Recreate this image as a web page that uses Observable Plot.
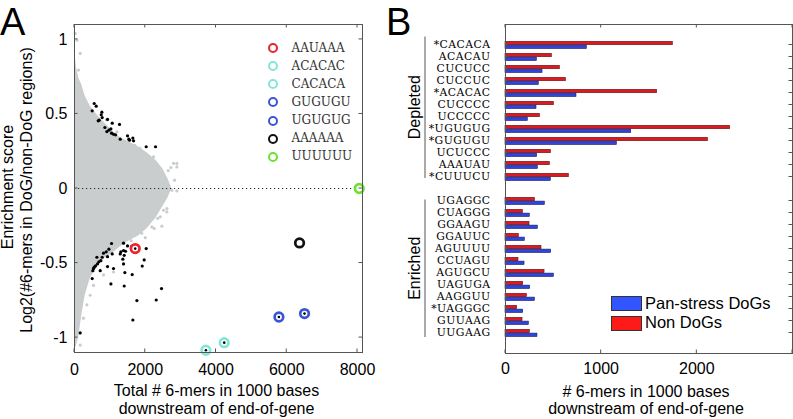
<!DOCTYPE html>
<html><head><meta charset="utf-8">
<script src="https://cdn.jsdelivr.net/npm/d3@7"></script>
<script src="https://cdn.jsdelivr.net/npm/@observablehq/plot@0.6"></script>
<style>
body{margin:0;background:#fff;}
#wrap{position:relative;width:793px;height:419px;overflow:hidden;font-family:"Liberation Sans",Arial,sans-serif;color:#000;}
.panel{position:absolute;top:0;}
.letter{position:absolute;font-size:38px;line-height:1;}
.legA{position:absolute;font-family:"DejaVu Serif",serif;font-size:12px;color:#333;white-space:nowrap;}
.ring{position:absolute;box-sizing:border-box;width:10px;height:10px;border-radius:50%;border:2.4px solid;}
.patch{position:absolute;width:31px;height:15px;box-sizing:border-box;border:1px solid #333;}
.legB{position:absolute;font-size:16.5px;line-height:1;white-space:nowrap;}
</style></head><body><div id="wrap"></div>
<script>
// ---------- Panel A data ----------
const cloudX    = [0, 50, 120, 200, 300, 450, 650, 850, 1100, 1300, 1550, 1800, 2050, 2300, 2500, 2650, 2750];
const cloudHigh = [0.95, 0.82, 0.74, 0.70, 0.62, 0.55, 0.49, 0.44, 0.38, 0.34, 0.31, 0.28, 0.24, 0.19, 0.13, 0.06, 0.0];
const cloudLow  = [-1.08, -1.06, -1.0, -0.86, -0.72, -0.60, -0.52, -0.47, -0.43, -0.39, -0.35, -0.32, -0.27, -0.20, -0.12, -0.06, 0.0];

const grayX = [20, 68, 161, 113, 2799, 2725, 2894, 2470, 2828, 2310, 2630, 2752, 2894, 2517, 2423, 2234, 2375, 2517, 2611, 2281, 2140, 2423, 2187, 2253, 2470, 2046, 1952, 2894, 2423, 2234, 2046, 350, 254, 113, 161, 444, 538, 820, 1103, 2140, 2612, 1952, 1575, 900, 1200, 1450, 1700, 1850, 2650, 1600, 1900, 2000, 2350];
const grayY = [1.04, 0.995, 0.906, 0.794, 0.168, 0.141, 0.145, 0.10, 0.056, 0.044, 0, -0.011, -0.016, -0.007, -0.023, -0.079, -0.09, -0.146, -0.157, -0.128, -0.19, -0.19, -0.258, -0.268, -0.253, -0.213, -0.235, 0.168, 0.1, 0.212, 0.19, -0.78, -0.87, -0.83, -1.05, -0.716, -0.65, -0.58, -0.56, -0.2, -0.134, -0.268, -0.313, 0.46, 0.38, 0.31, 0.29, 0.27, 0.12, -0.35, -0.30, -0.33, -0.2];

const blackX = [557, 613, 500, 774, 755, 698, 670, 783, 934, 1066, 1273, 859, 972, 1029, 915, 1047, 1103, 1160, 1292, 1499, 1537, 1650, 1669, 1556, 2027, 2291,
  1047, 1386, 1499, 1612, 1311, 1386, 1443, 1292, 1405, 1367, 1386, 972, 896, 934, 820, 783, 745, 689, 632, 651, 594, 538, 557, 519, 1066, 727, 934, 1103, 500, 2027, 1970, 1914, 1424, 1631, 1029, 1405, 2460, 2310, 1764, 1650, 161];
const blackY = [0.570, 0.552, 0.521, 0.512, 0.494, 0.458, 0.454, 0.476, 0.463, 0.438, 0.43, 0.409, 0.391, 0.40, 0.382, 0.371, 0.364, 0.36, 0.331, 0.353, 0.331, 0.338, 0.32, 0.324, 0.28, 0.28,
  -0.369, -0.367, -0.385, -0.389, -0.425, -0.416, -0.421, -0.439, -0.448, -0.474, -0.506, -0.407, -0.425, -0.457, -0.434, -0.461, -0.484, -0.492, -0.461, -0.506, -0.519, -0.537, -0.528, -0.551, -0.439, -0.551, -0.524, -0.537, -0.604, -0.403, -0.479, -0.52, -0.564, -0.577, -0.64, -0.654, -0.671, -0.748, -0.752, -0.882, -0.969];

const motifNames  = ["AAUAAA", "ACACAC", "CACACA", "GUGUGU", "UGUGUG", "AAAAAA", "UUUUUU"];
const motifColors = ["#e8242c", "#86e6d6", "#86e6d6", "#3a55d6", "#3a55d6", "#111111", "#6ee030"];
const motifX      = [1716, 3714, 4232, 5778, 6502, 6361, 8049];
const motifY      = [-0.403, -1.085, -1.034, -0.862, -0.839, -0.365, 0.0];
const motifHasDot = [true, true, true, true, true, false, false];

const xTicksA = [0, 2000, 4000, 6000, 8000];
const yTicksA = [-1, -0.5, 0, 0.5, 1];
const yLabelA = ["Enrichment score", "Log2(#6-mers in DoG/non-DoG regions)"];
const xLabelA = ["Total # 6-mers in 1000 bases", "downstream of end-of-gene"];

// ---------- Panel B data ----------
const kmersDepleted = ["CACACA", "ACACAU", "CUCUCC", "CUCCUC", "ACACAC", "CUCCCC", "UCCCCC", "UGUGUG", "GUGUGU", "UCUCCC", "AAAUAU", "CUUUCU"];
const kmersEnriched = ["UGAGGC", "CUAGGG", "GGAAGU", "GGAUUC", "AGUUUU", "CCUAGU", "AGUGCU", "UAGUGA", "AAGGUU", "UAGGGC", "GUUAAG", "UUGAAG"];
const nonDoGDepleted    = [1749, 484, 568, 631, 1585, 505, 359, 2348, 2115, 474, 463, 662];
const panStressDepleted = [850, 328, 387, 348, 742, 324, 233, 1314, 1164, 331, 338, 474];
const nonDoGEnriched    = [307, 181, 251, 139, 376, 136, 408, 185, 223, 122, 178, 254];
const panStressEnriched = [411, 254, 338, 202, 477, 199, 505, 258, 307, 185, 244, 334];
const starred = ["CACACA", "ACACAC", "UGUGUG", "GUGUGU", "CUUUCU", "UAGGGC"];
const xTicksB = [0, 1000, 2000];
const seriesNames = ["Pan-stress DoGs", "Non DoGs"];
const groupNames = ["Depleted", "Enriched"];
const xLabelB = ["# 6-mers in 1000 bases", "downstream of end-of-gene"];

// ---------- build ----------
const wrap = document.getElementById("wrap");
const sans = "Liberation Sans, Arial, sans-serif";

const cloud = cloudX.map((x, i) => ({x, lo: cloudLow[i], hi: cloudHigh[i]}));
const grayPts = grayX.map((x, i) => ({x, y: grayY[i]}));
const blackPts = blackX.map((x, i) => ({x, y: blackY[i]}));
const motifs = motifNames.map((name, i) => ({name, color: motifColors[i], x: motifX[i], y: motifY[i], dot: motifHasDot[i]}));

const chartA = Plot.plot({
  width: 400, height: 419,
  marginLeft: 74, marginRight: 38, marginTop: 24, marginBottom: 67,
  style: {fontFamily: sans, fontSize: "16px", background: "transparent", color: "#000"},
  x: {domain: [0, 8141]},
  y: {domain: [-1.1, 1.1]},
  color: {type: "identity"},
  marks: [
    Plot.areaY(cloud, {x: "x", y1: "lo", y2: "hi", fill: "#c9cdcd"}),
    Plot.dot(grayPts, {x: "x", y: "y", r: 1.6, fill: "#c9cdcd"}),
    Plot.ruleY([0], {stroke: "#222", strokeDasharray: "1.2,2.8", strokeWidth: 1}),
    Plot.dot(blackPts, {x: "x", y: "y", r: 1.6, fill: "#000"}),
    Plot.dot(motifs, {x: "x", y: "y", r: 4.3, stroke: "color", strokeWidth: 2.7, fill: "white"}),
    Plot.dot(motifs.filter(d => d.dot), {x: "x", y: "y", r: 1.3, fill: "#000"}),
    Plot.frame({stroke: "#555"}),
    Plot.axisX({ticks: xTicksA, tickSize: 0, tickPadding: 11, label: null, tickFormat: d => String(d), fontSize: 16}),
    Plot.axisY({ticks: yTicksA, tickSize: 0, tickPadding: 7, label: null, tickFormat: d => String(d), fontSize: 16}),
    Plot.text([xLabelA[0]], {frameAnchor: "bottom", dy: 38.4, dx: -2, lineAnchor: "middle", fontSize: 16}),
    Plot.text([xLabelA[1]], {frameAnchor: "bottom", dy: 56.2, dx: -2, lineAnchor: "middle", fontSize: 16})
  ]
});
chartA.classList.add("panel");
chartA.style.left = "0px";
wrap.appendChild(chartA);

// rotated y-axis labels of panel A
{
  const svg = d3.select(chartA);
  const sy = chartA.scale("y");
  const mid = (sy.range[0] + sy.range[1]) / 2;
  svg.append("text").attr("transform", `translate(12.5,${mid - 1}) rotate(-90)`)
    .attr("text-anchor", "middle").attr("font-family", sans).attr("font-size", 16).text(yLabelA[0]);
  svg.append("text").attr("transform", `translate(31.7,${mid + 2}) rotate(-90)`)
    .attr("text-anchor", "middle").attr("font-family", sans).attr("font-size", 16).text(yLabelA[1]);
}

const kmers = [...kmersDepleted, "gap", ...kmersEnriched];
const dataB = [
  ...kmersDepleted.map((k, i) => ({k, pan: panStressDepleted[i], non: nonDoGDepleted[i]})),
  ...kmersEnriched.map((k, i) => ({k, pan: panStressEnriched[i], non: nonDoGEnriched[i]}))
];

const chartB = Plot.plot({
  width: 393, height: 419,
  marginLeft: 105, marginRight: 1, marginTop: 24, marginBottom: 66,
  style: {fontFamily: sans, fontSize: "16px", background: "transparent", color: "#000"},
  x: {domain: [0, 3000]},
  y: {type: "band", domain: kmers, paddingInner: 0.1, paddingOuter: 0.5},
  marks: [
    Plot.barX(dataB, {y: "k", x: "non", fill: "#d81c22", stroke: "#6a0c0c", strokeWidth: 0.6, insetTop: 2.3, insetBottom: 5.3}),
    Plot.barX(dataB, {y: "k", x: "pan", fill: "#2f45d8", stroke: "#141c6a", strokeWidth: 0.6, insetTop: 6.1, insetBottom: 1.5}),
    Plot.frame({stroke: "#555"}),
    Plot.axisX({ticks: xTicksB, tickSize: 0, tickPadding: 9, label: null, tickFormat: d => String(d), fontSize: 16}),
    Plot.axisY({tickSize: 0, tickPadding: 15, label: null, fontFamily: "DejaVu Serif, serif", fontSize: 10.8, fill: "#000",
      tickFormat: k => k === "gap" ? "" : (starred.includes(k) ? "*" : "") + k}),
    Plot.text([xLabelB[0]], {frameAnchor: "bottom", dy: 38.2, dx: -3, lineAnchor: "middle", fontSize: 16}),
    Plot.text([xLabelB[1]], {frameAnchor: "bottom", dy: 55.7, dx: -3, lineAnchor: "middle", fontSize: 16})
  ]
});
chartB.classList.add("panel");
chartB.style.left = "400px";
d3.select(chartB).selectAll('g[aria-label="y-axis tick label"] text').style("letter-spacing", "0.45px");
wrap.appendChild(chartB);

// ---------- inner (MATLAB-style) ticks ----------
function innerTicks(chart, xTicks, yTicks, len) {
  const svg = d3.select(chart);
  const sx = chart.scale("x"), sy = chart.scale("y");
  const [x0, x1] = sx.range;
  const yb = Math.max(...sy.range), yt = Math.min(...sy.range);
  const g = svg.append("g").attr("stroke", "#555").attr("stroke-width", 1);
  xTicks.forEach(v => {
    const x = sx.apply(v);
    g.append("line").attr("x1", x).attr("x2", x).attr("y1", yb).attr("y2", yb - len);
    g.append("line").attr("x1", x).attr("x2", x).attr("y1", yt).attr("y2", yt + len);
  });
  yTicks.forEach(v => {
    const y = sy.apply(v) + (sy.bandwidth ? sy.bandwidth / 2 : 0);
    g.append("line").attr("x1", x0).attr("x2", x0 + len).attr("y1", y).attr("y2", y);
    g.append("line").attr("x1", x1).attr("x2", x1 - len).attr("y1", y).attr("y2", y);
  });
}
innerTicks(chartA, xTicksA, yTicksA, 3.5);
innerTicks(chartB, [...xTicksB, 3000], [...kmersDepleted, ...kmersEnriched], 3.5);

// ---------- group brackets in panel B ----------
{
  const svg = d3.select(chartB);
  const sy = chartB.scale("y");
  const c = k => sy.apply(k) + sy.bandwidth / 2;
  const groups = [
    {name: groupNames[0], a: c(kmersDepleted[0]) - 8, b: c(kmersDepleted[kmersDepleted.length - 1]) + 1.5},
    {name: groupNames[1], a: c(kmersEnriched[0]) - 1, b: c(kmersEnriched[kmersEnriched.length - 1]) + 4.5}
  ];
  groups.forEach(gr => {
    svg.append("line").attr("x1", 25).attr("x2", 25).attr("y1", gr.a).attr("y2", gr.b).attr("stroke", "#555").attr("stroke-width", 1);
    svg.append("text").attr("transform", `translate(19.5,${(gr.a + gr.b) / 2}) rotate(-90)`)
      .attr("text-anchor", "middle").attr("font-family", sans).attr("font-size", 16).text(gr.name);
  });
}

// ---------- legends & letters ----------
function addDiv(cls, css, text) {
  const d = document.createElement("div");
  d.className = cls;
  Object.assign(d.style, css);
  if (text != null) d.textContent = text;
  wrap.appendChild(d);
  return d;
}
motifs.forEach((m, i) => {
  const cy = 48.3 + i * 18.05;
  addDiv("ring", {left: (273.3 - 5) + "px", top: (cy - 5) + "px", borderColor: m.color});
  addDiv("legA", {left: "291.5px", top: (cy - 7.5) + "px", lineHeight: "15px"}, m.name);
});
addDiv("patch", {left: "610.7px", top: "295.7px", background: "#3355ff"});
addDiv("patch", {left: "610.7px", top: "315.7px", background: "#ff1a1a"});
addDiv("legB", {left: "645px", top: (303.5 - 9) + "px"}, seriesNames[0]);
addDiv("legB", {left: "645px", top: (323.2 - 9) + "px"}, seriesNames[1]);
addDiv("letter", {left: "0px", top: "3px"}, "A");
addDiv("letter", {left: "386px", top: "3px"}, "B");
</script>
</body></html>
